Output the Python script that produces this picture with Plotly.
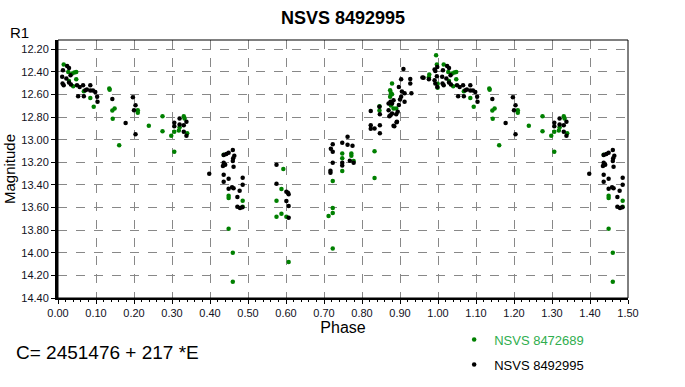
import plotly.graph_objects as go

# NSVS 8492995 (black) — phase 0..1
black_phase = [0.013, 0.024, 0.029, 0.011, 0.022, 0.033, 0.012, 0.015, 0.029, 0.034,
               0.050, 0.057, 0.066, 0.072, 0.076, 0.085, 0.085, 0.053, 0.068, 0.092,
               0.098, 0.103, 0.104, 0.143, 0.197, 0.204, 0.200, 0.178, 0.204, 0.320,
               0.306, 0.306, 0.320, 0.331, 0.338, 0.331, 0.338, 0.398, 0.436, 0.443,
               0.449, 0.460, 0.464, 0.461, 0.460, 0.436, 0.440, 0.434, 0.462, 0.436,
               0.436, 0.449, 0.462, 0.449, 0.458, 0.486, 0.486, 0.478, 0.472, 0.472,
               0.479, 0.485, 0.575, 0.575, 0.601, 0.607, 0.605, 0.601, 0.607, 0.607,
               0.723, 0.718, 0.723, 0.723, 0.717, 0.717, 0.748, 0.762, 0.762, 0.775,
               0.768, 0.778, 0.748, 0.748, 0.823, 0.823, 0.823, 0.833, 0.847, 0.847,
               0.847, 0.846, 0.883, 0.891, 0.870, 0.875, 0.879, 0.883, 0.870, 0.875,
               0.879, 0.890, 0.894, 0.897, 0.900, 0.903, 0.897, 0.905, 0.912, 0.912,
               0.903, 0.909, 0.927, 0.927, 0.930, 0.885, 0.892, 0.872, 0.962, 0.976,
               0.991, 0.993, 0.997, 0.991, 0.998, 0.998, 0.993, 0.959]
black_mag = [12.386, 12.347, 12.365, 12.444, 12.459, 12.430, 12.503, 12.518, 12.494, 12.512,
             12.518, 12.533, 12.518, 12.562, 12.556, 12.518, 12.565, 12.615, 12.615, 12.565,
             12.577, 12.621, 12.665, 12.639, 12.624, 12.695, 12.739, 12.853, 12.951, 12.812,
             12.850, 12.880, 12.865, 12.871, 12.842, 12.930, 12.965, 13.301, 13.136, 13.127,
             13.116, 13.092, 13.142, 13.165, 13.189, 13.204, 13.222, 13.233, 13.239, 13.310,
             13.372, 13.345, 13.430, 13.433, 13.420, 13.336, 13.398, 13.451, 13.507, 13.592,
             13.604, 13.598, 13.222, 13.389, 13.460, 13.483, 13.469, 13.542, 13.586, 13.690,
             13.039, 13.080, 13.107, 13.204, 13.275, 13.292, 13.027, 12.974, 13.045, 13.054,
             13.186, 13.204, 13.204, 13.227, 12.745, 12.871, 12.904, 12.900, 12.871, 12.942,
             12.774, 12.709, 12.877, 12.845, 12.680, 12.665, 12.680, 12.650, 12.739, 12.783,
             12.768, 12.774, 12.753, 12.694, 12.644, 12.621, 12.533, 12.574, 12.589, 12.665,
             12.465, 12.374, 12.462, 12.503, 12.589, 12.880, 12.842, 12.792, 12.453, 12.465,
             12.380, 12.392, 12.438, 12.474, 12.356, 12.533, 12.503, 12.450]

# NSVS 8472689 (green) — phase 0..1
green_phase = [0.015, 0.027, 0.037, 0.043, 0.048, 0.048, 0.029, 0.040, 0.068, 0.085,
               0.094, 0.135, 0.136, 0.143, 0.149, 0.144, 0.210, 0.210, 0.275, 0.239,
               0.275, 0.161, 0.306, 0.298, 0.331, 0.333, 0.320, 0.318, 0.340, 0.306,
               0.436, 0.449, 0.449, 0.486, 0.486, 0.449, 0.460, 0.460, 0.593, 0.588,
               0.575, 0.588, 0.575, 0.601, 0.607, 0.748, 0.748, 0.772, 0.772, 0.778,
               0.748, 0.723, 0.833, 0.833, 0.723, 0.723, 0.712, 0.723, 0.879, 0.874,
               0.876, 0.879, 0.874, 0.876, 0.883, 0.890, 0.846, 0.846, 0.977, 0.976,
               0.995, 0.997, 0.999, 0.999]
green_mag = [12.335, 12.400, 12.415, 12.406, 12.400, 12.465, 12.480, 12.527, 12.571, 12.630,
             12.709, 12.547, 12.559, 12.742, 12.724, 12.815, 12.739, 12.762, 12.792, 12.877,
             12.924, 13.048, 13.107, 12.965, 12.792, 12.812, 12.889, 12.918, 12.942, 12.930,
             13.133, 13.495, 13.516, 13.540, 13.592, 13.787, 13.999, 14.257, 13.260, 13.436,
             13.540, 13.654, 13.681, 13.681, 14.081, 13.121, 13.165, 13.121, 13.142, 13.189,
             13.277, 13.366, 13.101, 13.339, 13.604, 13.648, 13.675, 13.963, 12.503, 12.562,
             12.586, 12.597, 12.621, 12.697, 12.724, 12.724, 12.703, 12.742, 12.424, 12.447,
             12.253, 12.335, 12.506, 12.541]

x_ticks = [round(i * 0.1, 2) for i in range(16)]
y_ticks = [round(12.2 + i * 0.2, 2) for i in range(12)]


def extend(ph, mg):
    # phase diagram shown over 0..1.5: points of phase < 0.5 repeated at phase + 1
    xs = list(ph) + [p + 1 for p in ph if p < 0.5]
    ys = list(mg) + [m for p, m in zip(ph, mg) if p < 0.5]
    return xs, ys


gx, gy = extend(green_phase, green_mag)
bx, by = extend(black_phase, black_mag)

fig = go.Figure()
fig.add_trace(go.Scatter(x=gx, y=gy, mode="markers", name="<span style='color:#2fae4e'>NSVS 8472689</span>",
                         marker=dict(color="#008000", size=4.5, symbol="circle"), legendgroup="g"))
fig.add_trace(go.Scatter(x=bx, y=by, mode="markers", name="NSVS 8492995",
                         marker=dict(color="#000000", size=4.5, symbol="circle"), legendgroup="b"))

axis_font = dict(family="Liberation Sans, Arial, sans-serif", size=11, color="#111122")

fig.update_layout(
    width=685, height=387,
    margin=dict(l=58, r=57, t=40, b=89, autoexpand=False),
    paper_bgcolor="white", plot_bgcolor="white",
    title=dict(text="<b>NSVS 8492995</b>", x=0.5, xref="paper", xanchor="center",
               y=1 - 18 / 387, yref="container", yanchor="middle",
               font=dict(family="Liberation Sans, Arial, sans-serif", size=18, color="#000")),
    xaxis=dict(range=[0, 1.5], tickvals=x_ticks, tickformat=".2f", tickfont=axis_font,
               automargin=False,
               showgrid=True, gridcolor="#888888", griddash="dash", gridwidth=1,
               showline=True, linecolor="black", linewidth=2, ticks="outside", ticklen=4,
               tickcolor="black", zeroline=False,
               minor=dict(ticks="outside", dtick=0.02, ticklen=2, tickcolor="black", showgrid=False),
               title=dict(text="Phase", standoff=4,
                          font=dict(family="Liberation Sans, Arial, sans-serif", size=16, color="#000"))),
    yaxis=dict(range=[14.40, 12.118], tickvals=y_ticks, tickformat=".2f", tickfont=axis_font,
               automargin=False,
               showgrid=True, gridcolor="#888888", griddash="dash", gridwidth=1,
               showline=True, linecolor="black", linewidth=3, ticks="outside", ticklen=4,
               tickcolor="black", zeroline=False,
               title=dict(text="Magnitude", standoff=3,
                          font=dict(family="Liberation Sans, Arial, sans-serif", size=15, color="#000"))),
    legend=dict(x=0.695, xanchor="left", y=-0.103, yanchor="top", traceorder="grouped",
                tracegroupgap=5, bgcolor="rgba(0,0,0,0)",
                font=dict(family="Liberation Sans, Arial, sans-serif", size=13, color="#000")),
    showlegend=True,
)

fig.add_shape(type="rect", xref="paper", yref="paper", x0=0, y0=0, x1=1, y1=1,
              line=dict(color="black", width=1), layer="above")

fig.add_annotation(text="R1", xref="paper", yref="paper", x=(8 - 58) / 570, y=(298 - 33) / 258,
                   xanchor="left", yanchor="middle", showarrow=False,
                   font=dict(family="Liberation Sans, Arial, sans-serif", size=15, color="#000"))
fig.add_annotation(text="C= 2451476 + 217 *E", xref="paper", yref="paper",
                   x=(14 - 58) / 570, y=(298 - 352) / 258, xanchor="left", yanchor="middle",
                   showarrow=False,
                   font=dict(family="Liberation Sans, Arial, sans-serif", size=19, color="#000"))

fig.write_html("out.html", config={"displayModeBar": False},
               post_script="document.body.style.margin='0px';document.body.style.overflow='hidden';")
